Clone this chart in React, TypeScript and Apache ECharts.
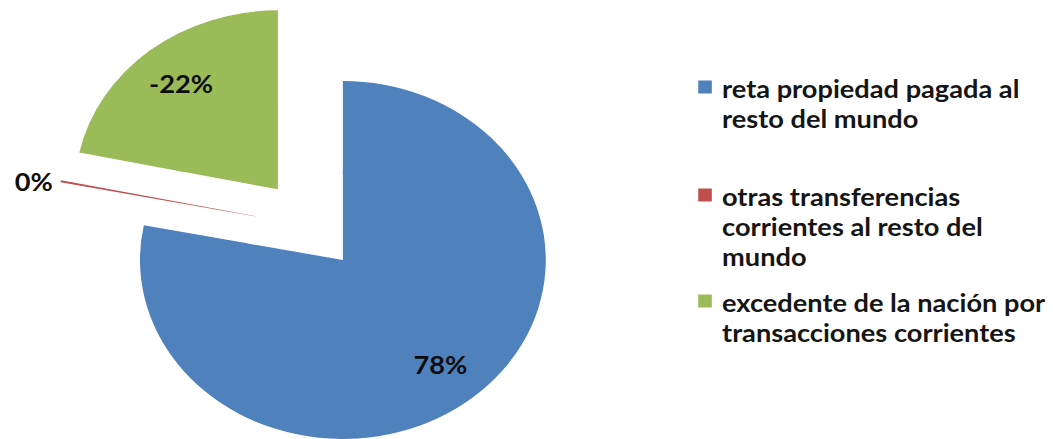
import React, { useEffect, useRef } from "react";
import * as echarts from "echarts";

// ---- data ----
const categories = [
  "reta propiedad pagada al resto del mundo",
  "otras transferencias corrientes al resto del mundo",
  "excedente de la nación por transacciones corrientes",
];
const legendLines = [
  ["reta propiedad pagada al", "resto del mundo"],
  ["otras transferencias", "corrientes al resto del", "mundo"],
  ["excedente de la nación por", "transacciones corrientes"],
];
const shares = [78.1, 0.2, -21.7];
const colors = ["#4F81BD", "#C0504D", "#9BBB59"];
const exploded = [false, false, true];

// ---- layout ----
const PAGE_W = 1053;
const PAGE_H = 439;
const CHART_W = 929;
const STRETCH = PAGE_W / CHART_W;
const CENTER: [number, number] = [302.5, 260];
const RED_CENTER: [number, number] = [229, 217];
const R = 179;
const LABEL_RING = 86;
const EXPLODE = 91;
const LH = 30;
const TEXT_SHIFT = 2;
const ICON_CENTERS = [87, 195, 301];
const CLEAR = "rgba(0,0,0,0)";

const labelFont = {
  fontFamily: "Lato",
  fontWeight: "bold" as const,
  fontSize: 24,
  color: "#0d0d0d",
};

const fmt = (p: any) => `${Math.round(shares[p.dataIndex])}%`;

export default function App() {
  const ref = useRef<HTMLDivElement>(null);
  useEffect(() => {
    const chart = echarts.init(ref.current!, undefined, { renderer: "svg" });

    const mainData = (withLabel: boolean) =>
      categories.map((name, i) => ({
        name,
        value: Math.abs(shares[i]),
        selected: exploded[i],
        itemStyle: { color: i === 1 ? CLEAR : colors[i] },
        label: { show: withLabel && i !== 1 },
      }));

    const common = {
      type: "pie" as const,
      startAngle: 90,
      clockwise: true,
      silent: true,
      avoidLabelOverlap: false,
      selectedMode: "multiple" as const,
      selectedOffset: EXPLODE,
      emphasis: { disabled: true, scale: false },
      itemStyle: { borderWidth: 0 },
    };

    const textBase = {
      fontFamily: "Lato",
      fontWeight: "bold",
      fontSize: 24,
      color: "#151515",
    };

    const option: any = {
      animation: false,
      backgroundColor: "#ffffff",
      textStyle: { fontFamily: "Lato" },
      legend: categories.map((name, i) => {
        const n = legendLines[i].length;
        const spacerH = (n - 1) * LH + 2 * TEXT_SHIFT;
        const boxH = spacerH + n * LH;
        return {
          orient: "vertical",
          left: 616,
          top: ICON_CENTERS[i] - boxH / 2,
          padding: 0,
          itemWidth: 12,
          itemHeight: 13,
          icon: "rect",
          selectedMode: false,
          data: [{ name, itemStyle: { color: colors[i] } }],
          formatter: () =>
            ["{s| }", ...legendLines[i].map((l) => `{t|${l}}`)].join("\n"),
          textStyle: {
            ...textBase,
            lineHeight: LH,
            rich: {
              s: { ...textBase, fontSize: 2, lineHeight: spacerH },
              t: { ...textBase, lineHeight: LH, padding: [0, 0, 0, 4] },
            },
          },
        };
      }),
      series: [
        {
          ...common,
          name: "inner",
          center: CENTER,
          radius: [0, LABEL_RING + 2],
          label: { show: false },
          labelLine: { show: false },
          data: mainData(false),
        },
        {
          ...common,
          name: "outer",
          center: CENTER,
          radius: [LABEL_RING, R],
          label: { position: "inside", formatter: fmt, ...labelFont },
          labelLine: { show: false },
          data: mainData(true),
        },
        {
          ...common,
          name: "red",
          center: RED_CENTER,
          radius: [0, R],
          selectedMode: false,
          label: {
            position: "outside",
            formatter: fmt,
            distanceToLabelLine: 7,
            ...labelFont,
          },
          labelLine: { show: false, length: 0, length2: 0 },
          data: categories.map((name, i) => ({
            name,
            value: Math.abs(shares[i]),
            itemStyle: { color: i === 1 ? colors[i] : CLEAR },
            label: { show: i === 1 },
          })),
        },
      ],
    };

    chart.setOption(option);
    return () => chart.dispose();
  }, []);

  return (
    <div
      style={{
        position: "fixed",
        left: 0,
        top: 0,
        width: PAGE_W,
        height: PAGE_H,
        overflow: "hidden",
        background: "#fff",
      }}
    >
      <div
        ref={ref}
        style={{
          width: CHART_W,
          height: PAGE_H,
          transform: `scaleX(${STRETCH})`,
          transformOrigin: "0 0",
        }}
      />
    </div>
  );
}
